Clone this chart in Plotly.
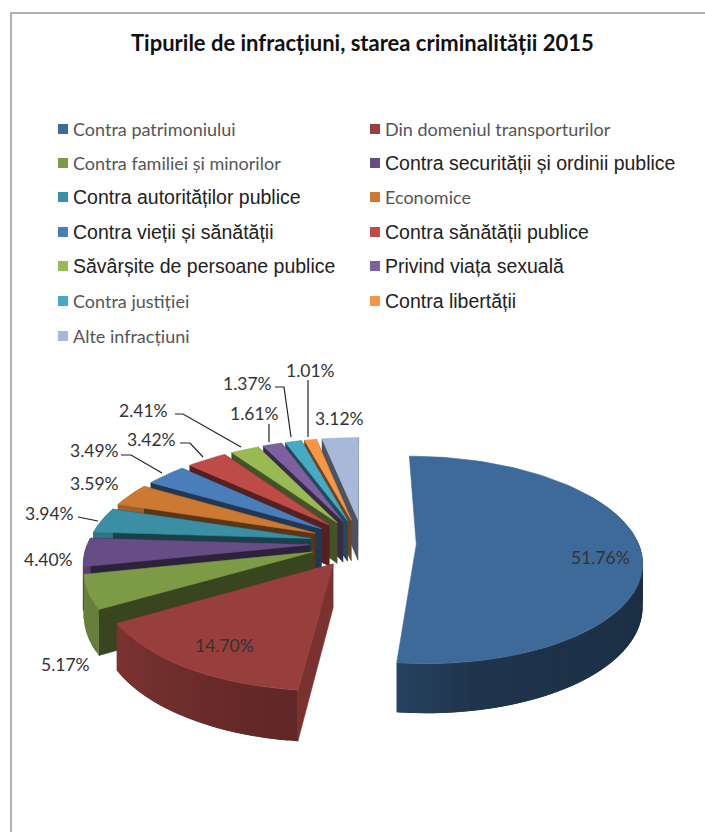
import numpy as np
import plotly.graph_objects as go

# ---- data ----
title = "Tipurile de infracțiuni, starea criminalității 2015"
categories = ["Contra patrimoniului", "Din domeniul transporturilor", "Contra familiei și minorilor",
              "Contra securității și ordinii publice", "Contra autorităților publice", "Economice",
              "Contra vieții și sănătății", "Contra sănătății publice", "Săvârșite de persoane publice",
              "Privind viața sexuală", "Contra justiției", "Contra libertății", "Alte infracțiuni"]
values = [51.76, 14.70, 5.17, 4.40, 3.94, 3.59, 3.49, 3.42, 2.41, 1.61, 1.37, 1.01, 3.12]
colors = ["#3E6A9A", "#983F3D", "#7D9A47", "#664D85", "#3A8FA5", "#CC7A33", "#4A7EBB",
          "#BE4B48", "#98B954", "#7D60A0", "#46AAC5", "#F79646", "#A7B8D8"]
# legend fonts differ per entry in the reference
legend_arial = [False, False, False, True, True, False, True, True, True, True, False, True, False]

# ---- label placement (pixels) ----
label_pos = [(600, 557), (224, 645), (65, 664), (48, 559), (49, 513), (94, 483), (94, 450),
             (151, 439), (143, 410), (254, 413), (247, 383), (310, 370), (339, 418)]
leaders = [[(78, 517), (98, 521)],
           [(121, 455), (131, 455), (162, 473)],
           [(180, 443), (190, 443), (203, 457)],
           [(175, 414), (183, 414), (241, 447)],
           [(269, 424), (269, 442)],
           [(275, 387), (284, 387), (291, 437)],
           [(308, 380), (308, 437)]]

# ---- projection of the exploded 3-D pie ----
CX, CY, A, B, P, H, D = 363, 543, 222, 101, 0.15, 42, 0.24


def project(X, Y, z=0.0):
    w = 1.0 / (1.0 - P * np.asarray(Y))
    return CX + A * np.asarray(X) * w, CY + (B * np.asarray(Y) + z) * w


def shade(hex_color, f):
    r, g, b = (int(hex_color[i:i + 2], 16) for i in (1, 3, 5))
    return f"rgb({int(r * f)},{int(g * f)},{int(b * f)})"


def wall_factor(deg):
    return np.interp(deg, [90, 170, 186, 240, 270, 360], [0.42, 0.5, 0.62, 0.82, 0.85, 0.6])


fig = go.Figure()


def poly(xs, ys, color, lw=0.6):
    fig.add_trace(go.Scatter(x=list(xs), y=list(ys), mode="lines", fill="toself", fillcolor=color,
                             line=dict(color=color, width=lw), hoverinfo="skip", showlegend=False))


total = sum(values)
ends = np.cumsum(values) / total * 360
starts = np.concatenate([[0], ends[:-1]])
mids = (starts + ends) / 2
order = np.argsort(-np.cos(np.radians(mids)))  # back (Y small) first

for i in order:
    s, e, m, col = starts[i], ends[i], mids[i], colors[i]
    ox, oy = D * np.sin(np.radians(m)), -D * np.cos(np.radians(m))
    n = max(int(e - s) // 2, 4)
    th = np.radians(np.linspace(s, e, n + 1))
    X = ox + np.sin(th)
    Y = oy - np.cos(th)
    radial = 0.8 if i == 1 else 0.45
    # radial faces (the reflex first slice shows none)
    if i != 0:
        for k in (0, -1):
            x1, y1 = project([ox, X[k], X[k], ox], [oy, Y[k], Y[k], oy], np.array([0, 0, H, H]))
            poly(x1, y1, shade(col, radial))
    # outer wall, shaded in strips that overlap the next one to hide seams
    for k in range(n):
        deg = np.degrees((th[k] + th[k + 1]) / 2)
        if deg < 60 or deg > 300:  # faces away from the viewer
            continue
        j = min(k + 2, n)
        xa, ya = project(X[k:j + 1], Y[k:j + 1])
        xb, yb = project(X[k:j + 1], Y[k:j + 1], H)
        poly(np.r_[xa, xb[::-1]], np.r_[ya, yb[::-1]], shade(col, wall_factor(deg)), 0)
    # top face
    x1, y1 = project(np.r_[ox, X, ox], np.r_[oy, Y, oy])
    poly(x1, y1, col)

annotations = [dict(x=362, y=42, text=title, showarrow=False, xanchor="center", yanchor="middle",
                    font=dict(family="Lato", size=22, color="#111111", weight="bold"))]
shapes = [dict(type="path", path="M 11 832 L 11 13 L 705 13", line=dict(color="#999999", width=1.5))]

rows = [129, 163, 197, 232, 266, 301, 336]
for i, cat in enumerate(categories):
    r, c = i // 2, i % 2
    mx = 58 if c == 0 else 370
    shapes.append(dict(type="rect", x0=mx, x1=mx + 10, y0=rows[r] - 5, y1=rows[r] + 5,
                       fillcolor=colors[i], line=dict(width=0)))
    ar = legend_arial[i]
    annotations.append(dict(x=mx + 13, y=rows[r], text=cat, showarrow=False, xanchor="left", yanchor="middle",
                            font=dict(family="Liberation Sans" if ar else "Lato", size=19.5 if ar else 18,
                                      color="#222222" if ar else "#555555")))

for v, (x, y) in zip(values, label_pos):
    annotations.append(dict(x=x, y=y, text=f"{v:.2f}%", showarrow=False, xanchor="center", yanchor="middle",
                            font=dict(family="Lato", size=17.5, color="#333333")))

for pts in leaders:
    path = "M " + " L ".join(f"{x} {y}" for x, y in pts)
    shapes.append(dict(type="path", path=path, line=dict(color="#222222", width=1.2)))

fig.update_layout(width=705, height=832, margin=dict(l=0, r=0, t=0, b=0), paper_bgcolor="white",
                  plot_bgcolor="white", showlegend=False,
                  xaxis=dict(range=[0, 705], visible=False, fixedrange=True),
                  yaxis=dict(range=[832, 0], visible=False, fixedrange=True),
                  annotations=annotations, shapes=shapes)
fig.write_html("out.html", post_script="document.body.style.margin='0';",
               config={"displayModeBar": False})
